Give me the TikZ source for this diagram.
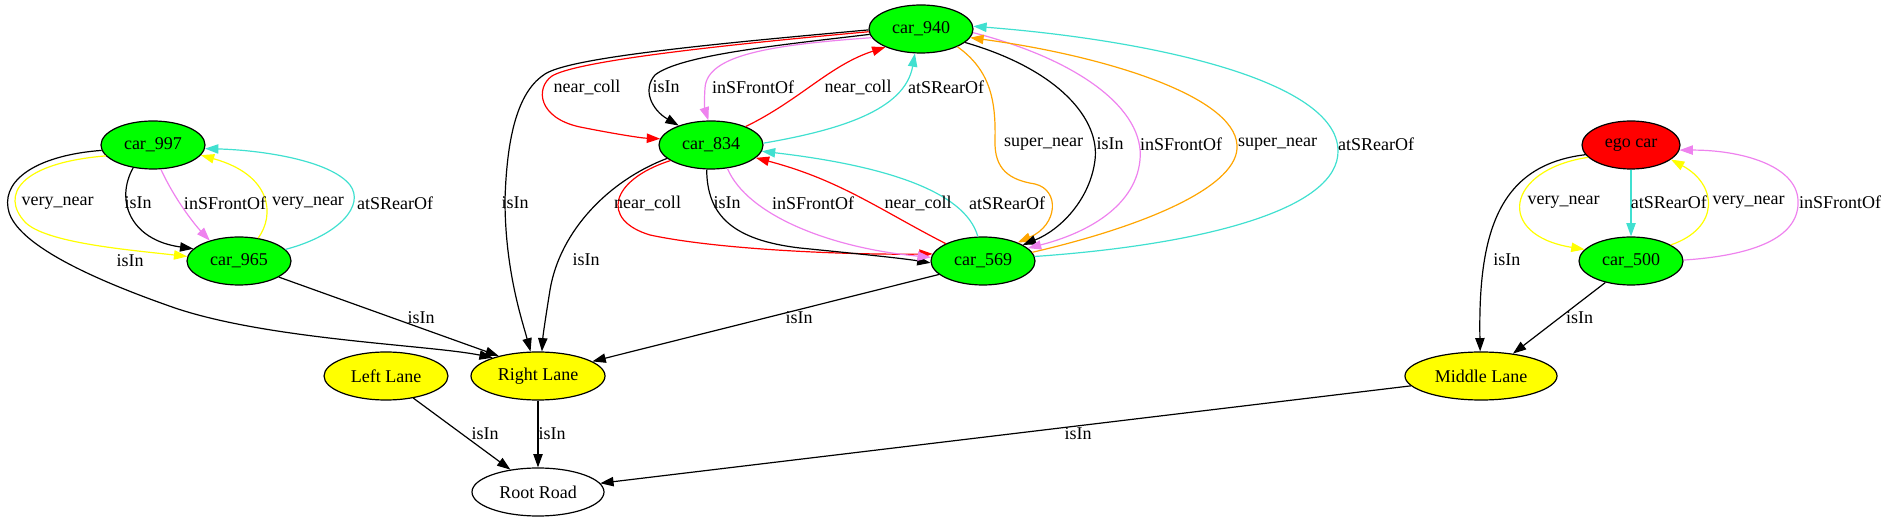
\documentclass[tikz,border=0pt]{standalone}
\usepackage{fontspec}
\setmainfont{Liberation Serif}
\usetikzlibrary{shapes.geometric,arrows.meta}
\definecolor{gvgreen}{HTML}{00FF00}
\definecolor{gvyellow}{HTML}{FFFF00}
\definecolor{gvred}{HTML}{FF0000}
\definecolor{gvviolet}{HTML}{EE82EE}
\definecolor{gvturq}{HTML}{40E0D0}
\definecolor{gvorange}{HTML}{FFA500}
\begin{document}
\begin{tikzpicture}[x=0.75pt,y=-0.75pt,
  every node/.style={font=\fontsize{13.5pt}{16pt}\selectfont},
  car/.style={ellipse, draw, line width=0.9pt, fill=gvgreen, minimum width=78pt, minimum height=36pt, inner sep=0pt},
  lane/.style={ellipse, draw, line width=0.9pt, fill=gvyellow, minimum height=36pt, inner sep=0pt},
  edge/.style={line width=0.9pt, -{Triangle[length=10pt,width=7pt]}},
  lbl/.style={inner sep=0pt}]
\useasboundingbox (0,0) rectangle (1884,523);
% nodes
\node[car] (n940) at (921,29) {car\_940};
\node[car] (n834) at (711,145) {car\_834};
\node[car] (n569) at (983,261) {car\_569};
\node[car] (n997) at (153,145) {car\_997};
\node[car] (n965) at (239,261) {car\_965};
\node[car, fill=gvred, minimum width=73.5pt] (ego) at (1631,145) {ego car};
\node[car] (n500) at (1631,261) {car\_500};
\node[lane, minimum width=93pt] (LL) at (386,376) {Left Lane};
\node[lane, minimum width=100.5pt] (RL) at (538,376) {Right Lane};
\node[lane, minimum width=114pt] (ML) at (1481,376) {Middle Lane};
\node[lane, fill=white, minimum width=99pt] (RR) at (538,492) {Root Road};
% left cluster
\draw[edge] (n997.186) .. controls (40,155) and (3,178) .. (8,208) .. controls (12,235) and (60,268) .. (175,308) .. controls (270,340) and (430,345) .. (RL.158);
\draw[edge, gvyellow] (n997.193) .. controls (20,163) and (0,195) .. (25,222) .. controls (45,243) and (130,250) .. (n965.175);
\draw[edge] (n997.229) .. controls (115,200) and (130,240) .. (n965.165);
\draw[edge, gvviolet] (n997.288) .. controls (175,200) and (195,225) .. (n965.145);
\draw[edge, gvyellow] (n965.50) .. controls (275,215) and (272,175) .. (n997.348);
\draw[edge, gvturq] (n965.14) .. controls (340,235) and (365,205) .. (350,185) .. controls (330,160) and (260,150) .. (n997.356);
\draw[edge] (n965.338) -- (RL.153);
% middle cluster
\draw[edge] (n940.181) .. controls (700,45) and (570,58) .. (545,74) .. controls (520,90) and (507,130) .. (505,200) .. controls (505,270) and (522,320) .. (RL.107);
\draw[edge] (n834.197) .. controls (610,180) and (560,230) .. (550,290) .. controls (546,315) and (543,335) .. (RL.81);
\draw[edge] (n569.197) -- (RL.15);
\draw[edge, gvred] (n940.183) .. controls (700,47) and (575,62) .. (552,76) .. controls (535,88) and (538,118) .. (580,127) .. controls (610,133) and (640,138) .. (n834.173);
\draw[edge] (n940.186) .. controls (780,45) and (680,55) .. (655,75) .. controls (642,90) and (652,110) .. (n834.149);
\draw[edge, gvviolet] (n940.190) .. controls (770,45) and (707,55) .. (705,88) .. controls (704,100) and (705,110) .. (n834.96);
\draw[edge, gvred] (n834.28) .. controls (800,100) and (830,65) .. (n940.207);
\draw[edge, gvturq] (n834.2) .. controls (840,130) and (905,110) .. (n940.256);
\draw[edge, gvred] (n834.201) .. controls (610,180) and (600,220) .. (650,235) .. controls (720,250) and (850,255) .. (n569.172);
\draw[edge] (n834.260) .. controls (707,215) and (732,240) .. (800,248) .. controls (850,253) and (900,258) .. (n569.182);
\draw[edge, gvviolet] (n834.305) .. controls (747,215) and (830,248) .. (n569.176);
\draw[edge, gvred] (n569.155) .. controls (880,210) and (840,180) .. (n834.344);
\draw[edge, gvturq] (n569.102) .. controls (965,190) and (880,165) .. (n834.353);
\draw[edge, gvorange] (n940.334) .. controls (990,70) and (996,100) .. (995,140) .. controls (994,170) and (1010,180) .. (1035,184) .. controls (1060,190) and (1058,225) .. (n569.28);
\draw[edge] (n940.343) .. controls (1060,70) and (1100,120) .. (1095,160) .. controls (1090,200) and (1060,230) .. (n569.22);
\draw[edge, gvviolet] (n940.356) .. controls (1080,60) and (1145,110) .. (1140,160) .. controls (1135,210) and (1080,235) .. (n569.16);
\draw[edge, gvorange] (n569.10) .. controls (1150,225) and (1240,185) .. (1237,145) .. controls (1234,95) and (1100,55) .. (n940.350);
\draw[edge, gvturq] (n569.5) .. controls (1200,245) and (1340,210) .. (1338,150) .. controls (1336,80) and (1150,40) .. (n940.3);
% right cluster
\draw[edge] (ego.192) .. controls (1500,165) and (1478,230) .. (ML.92);
\draw[edge, gvyellow] (ego.196) .. controls (1505,170) and (1495,235) .. (n500.166);
\draw[edge, gvturq] (ego) -- (n500);
\draw[edge, gvyellow] (n500.22) .. controls (1720,228) and (1718,185) .. (ego.340);
\draw[edge, gvviolet] (n500.1) .. controls (1760,255) and (1800,235) .. (1798,200) .. controls (1796,165) and (1740,150) .. (ego.354);
\draw[edge] (n500.220) -- (ML.35);
% lanes to road
\draw[edge] (ML.188.6) -- (RR.8);
\draw[edge] (LL.321.6) -- (RR.141);
\draw[edge] (RL) -- (RR);
% labels
\node[lbl] (l1) at (57.7,203) {very\_near};
\node[lbl] (l2) at (138,203) {isIn};
\node[lbl] (l3) at (225,203) {inSFrontOf};
\node[lbl] (l4) at (308,203) {very\_near};
\node[lbl] (l5) at (395,203) {atSRearOf};
\node[lbl] (l6) at (130,261) {isIn};
\node[lbl] (l7) at (421,318) {isIn};
\node[lbl] (l8) at (587,87) {near\_coll};
\node[lbl] (l9) at (666,87) {isIn};
\node[lbl] (l10) at (753,87) {inSFrontOf};
\node[lbl] (l11) at (858,87) {near\_coll};
\node[lbl] (l12) at (946,87) {atSRearOf};
\node[lbl] (l13) at (515,203) {isIn};
\node[lbl] (l14) at (647.5,203) {near\_coll};
\node[lbl] (l15) at (727,203) {isIn};
\node[lbl] (l16) at (813,203) {inSFrontOf};
\node[lbl] (l17) at (918,203) {near\_coll};
\node[lbl] (l18) at (1007,203) {atSRearOf};
\node[lbl] (l19) at (586,260) {isIn};
\node[lbl] (l20) at (1043.5,144) {super\_near};
\node[lbl] (l21) at (1110,144) {isIn};
\node[lbl] (l22) at (1181,144) {inSFrontOf};
\node[lbl] (l23) at (1277.7,144) {super\_near};
\node[lbl] (l24) at (1376,144) {atSRearOf};
\node[lbl] (l25) at (799,318) {isIn};
\node[lbl] (l26) at (1563.7,202) {very\_near};
\node[lbl] (l27) at (1668.8,202) {atSRearOf};
\node[lbl] (l28) at (1748.6,202) {very\_near};
\node[lbl] (l29) at (1840,202) {inSFrontOf};
\node[lbl] (l30) at (1506.8,260) {isIn};
\node[lbl] (l31) at (1579.5,318) {isIn};
\node[lbl] (l32) at (1078,434) {isIn};
\node[lbl] (l33) at (485,434) {isIn};
\node[lbl] (l34) at (552,434) {isIn};
\end{tikzpicture}
\end{document}
